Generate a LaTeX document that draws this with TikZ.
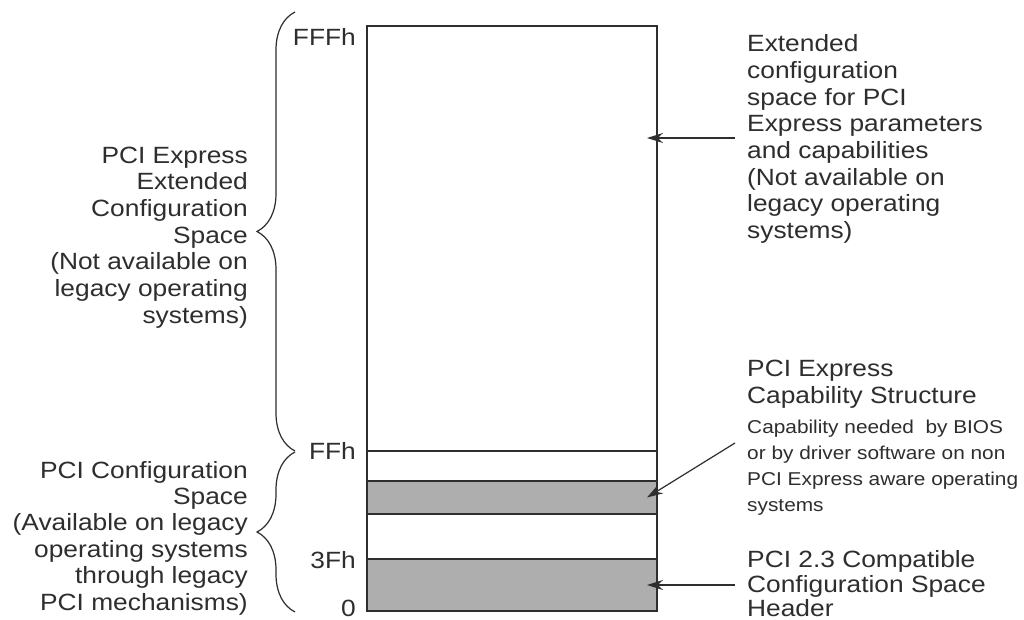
\documentclass[tikz,border=0pt]{standalone}
\usepackage{fontspec}
\setmainfont{Liberation Sans}[FakeStretch=1.12]
\usetikzlibrary{arrows.meta,decorations.pathreplacing}
\definecolor{ink}{HTML}{2E2E2E}
\definecolor{band}{HTML}{AEAEAE}
\tikzset{
  region/.style={draw=ink, line width=1.2pt, minimum width=290pt, inner sep=0pt, outer sep=0pt, anchor=south west},
  shaded/.style={region, fill=band},
  big/.style={font=\fontsize{23.5}{26.7}\selectfont, text=ink, inner sep=0pt},
  small/.style={font=\fontsize{18.6}{26.1}\selectfont, text=ink, inner sep=0pt},
  addr/.style={big, anchor=east},
  pointer/.style={draw=ink, line width=1.2pt, -{Stealth[length=16pt,width=10pt]}},
  bracket/.style={draw=ink, line width=1.2pt, decorate, decoration={brace, amplitude=38pt}},
}
\begin{document}
\begin{tikzpicture}[x=1pt,y=1pt]
\useasboundingbox[fill=white] (0,0) rectangle (1024,620);

% configuration space column
\node[region, minimum height=425pt] (ext) at (367,169) {};
\node[region, minimum height=160pt] (legacy) at (367,9) {};
\node[shaded, minimum height=33pt] (capst) at (367,106) {};
\node[shaded, minimum height=52pt] (hdr) at (367,9) {};

% offsets
\node[addr] (fffh) at (356,583) {FFFh};
\node[addr] (ffh) at (356,169) {FFh};
\node[addr] (tfh) at (356,60) {3Fh};
\node[addr] (zero) at (356,12) {0};

% braces on the left
\coordinate (extLo) at (295,169);
\coordinate (extHi) at (295,608);
\coordinate (cfgLo) at (295,8);
\coordinate (cfgHi) at (295,168);
\draw[bracket] (extLo) -- (extHi);
\draw[bracket] (cfgLo) -- (cfgHi);

\node[big, align=right, anchor=east] (extLabel) at (248,382.5)
  {PCI Express\\Extended\\Configuration\\Space\\(Not available on\\legacy operating\\systems)};
\node[big, align=right, anchor=east, font=\fontsize{23.5}{26.4}\selectfont] (cfgLabel) at (248,82)
  {PCI Configuration\\Space\\(Available on legacy\\operating systems~\\through legacy\\PCI mechanisms)};

% descriptions on the right
\node[big, align=left, anchor=west] (extText) at (747,481)
  {Extended\\configuration\\space for PCI\\Express parameters\\and capabilities\\(Not available on\\legacy operating\\systems)};
\node[big, align=left, anchor=west] (capTitle) at (747,236)
  {PCI Express\\Capability Structure};
\node[small, align=left, anchor=west] (capNote) at (747,152.5)
  {Capability needed~ by BIOS\\or by driver software on non\\PCI Express aware operating\\systems};
\node[big, align=left, anchor=west, font=\fontsize{23.5}{24.5}\selectfont] (hdrText) at (747,36)
  {PCI 2.3 Compatible\\Configuration Space\\Header};

% pointers
\coordinate (extFrom) at (735,482);
\coordinate (capFrom) at (735,177);
\coordinate (hdrFrom) at (735,35);
\draw[pointer] (extFrom) -- ([xshift=-10pt]ext.east |- extFrom);
\draw[pointer] (capFrom) -- ([xshift=-10pt]capst.east);
\draw[pointer] (hdrFrom) -- ([xshift=-10pt]hdr.east |- hdrFrom);
\end{tikzpicture}
\end{document}
